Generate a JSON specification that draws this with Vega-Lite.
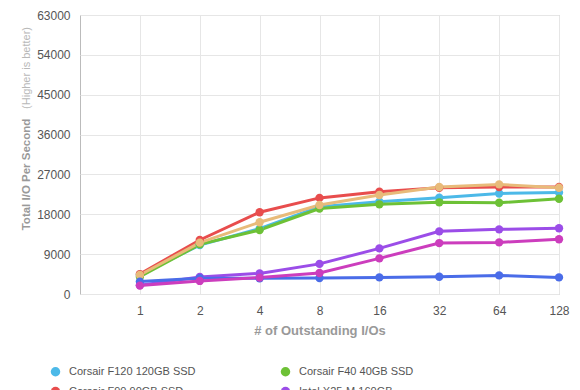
{
  "$schema": "https://vega.github.io/schema/vega-lite/v6.json",
  "width": 479,
  "height": 279,
  "autosize": {"type": "none"},
  "padding": {"left": 80, "top": 15, "right": 21, "bottom": 96},
  "background": "white",
  "config": {
    "font": "Liberation Sans",
    "view": {"stroke": "#bbbbbb", "strokeWidth": 1}
  },
  "title": {
    "text": "(Higher is better)",
    "orient": "left",
    "anchor": "end",
    "offset": -11,
    "dx": -18,
    "fontSize": 11,
    "fontWeight": "normal",
    "color": "#b8b8b8"
  },
  "data": {
    "values": [
      {"drive": "Corsair F120 120GB SSD", "ios": 1, "iops": 4350},
      {"drive": "Corsair F120 120GB SSD", "ios": 2, "iops": 11050},
      {"drive": "Corsair F120 120GB SSD", "ios": 4, "iops": 14750},
      {"drive": "Corsair F120 120GB SSD", "ios": 8, "iops": 19700},
      {"drive": "Corsair F120 120GB SSD", "ios": 16, "iops": 20850},
      {"drive": "Corsair F120 120GB SSD", "ios": 32, "iops": 21750},
      {"drive": "Corsair F120 120GB SSD", "ios": 64, "iops": 22700},
      {"drive": "Corsair F120 120GB SSD", "ios": 128, "iops": 22900},
      {"drive": "Corsair F40 40GB SSD", "ios": 1, "iops": 3900},
      {"drive": "Corsair F40 40GB SSD", "ios": 2, "iops": 11200},
      {"drive": "Corsair F40 40GB SSD", "ios": 4, "iops": 14450},
      {"drive": "Corsair F40 40GB SSD", "ios": 8, "iops": 19300},
      {"drive": "Corsair F40 40GB SSD", "ios": 16, "iops": 20250},
      {"drive": "Corsair F40 40GB SSD", "ios": 32, "iops": 20700},
      {"drive": "Corsair F40 40GB SSD", "ios": 64, "iops": 20600},
      {"drive": "Corsair F40 40GB SSD", "ios": 128, "iops": 21500},
      {"drive": "Corsair F90 90GB SSD", "ios": 1, "iops": 4500},
      {"drive": "Corsair F90 90GB SSD", "ios": 2, "iops": 12200},
      {"drive": "Corsair F90 90GB SSD", "ios": 4, "iops": 18450},
      {"drive": "Corsair F90 90GB SSD", "ios": 8, "iops": 21700},
      {"drive": "Corsair F90 90GB SSD", "ios": 16, "iops": 23100},
      {"drive": "Corsair F90 90GB SSD", "ios": 32, "iops": 24000},
      {"drive": "Corsair F90 90GB SSD", "ios": 64, "iops": 24150},
      {"drive": "Corsair F90 90GB SSD", "ios": 128, "iops": 24150},
      {"drive": "Intel X25-M 160GB", "ios": 1, "iops": 2000},
      {"drive": "Intel X25-M 160GB", "ios": 2, "iops": 3850},
      {"drive": "Intel X25-M 160GB", "ios": 4, "iops": 4650},
      {"drive": "Intel X25-M 160GB", "ios": 8, "iops": 6800},
      {"drive": "Intel X25-M 160GB", "ios": 16, "iops": 10300},
      {"drive": "Intel X25-M 160GB", "ios": 32, "iops": 14150},
      {"drive": "Intel X25-M 160GB", "ios": 64, "iops": 14600},
      {"drive": "Intel X25-M 160GB", "ios": 128, "iops": 14850},
      {"drive": "OCZ Vertex 2 SSD", "ios": 1, "iops": 4300},
      {"drive": "OCZ Vertex 2 SSD", "ios": 2, "iops": 11600},
      {"drive": "OCZ Vertex 2 SSD", "ios": 4, "iops": 16200},
      {"drive": "OCZ Vertex 2 SSD", "ios": 8, "iops": 20100},
      {"drive": "OCZ Vertex 2 SSD", "ios": 16, "iops": 22350},
      {"drive": "OCZ Vertex 2 SSD", "ios": 32, "iops": 24150},
      {"drive": "OCZ Vertex 2 SSD", "ios": 64, "iops": 24750},
      {"drive": "OCZ Vertex 2 SSD", "ios": 128, "iops": 24000},
      {"drive": "Intel X25-V 40GB", "ios": 1, "iops": 2800},
      {"drive": "Intel X25-V 40GB", "ios": 2, "iops": 3550},
      {"drive": "Intel X25-V 40GB", "ios": 4, "iops": 3550},
      {"drive": "Intel X25-V 40GB", "ios": 8, "iops": 3600},
      {"drive": "Intel X25-V 40GB", "ios": 16, "iops": 3750},
      {"drive": "Intel X25-V 40GB", "ios": 32, "iops": 3900},
      {"drive": "Intel X25-V 40GB", "ios": 64, "iops": 4200},
      {"drive": "Intel X25-V 40GB", "ios": 128, "iops": 3750},
      {"drive": "Kingston V 64GB", "ios": 1, "iops": 1900},
      {"drive": "Kingston V 64GB", "ios": 2, "iops": 2950},
      {"drive": "Kingston V 64GB", "ios": 4, "iops": 3700},
      {"drive": "Kingston V 64GB", "ios": 8, "iops": 4750},
      {"drive": "Kingston V 64GB", "ios": 16, "iops": 8050},
      {"drive": "Kingston V 64GB", "ios": 32, "iops": 11500},
      {"drive": "Kingston V 64GB", "ios": 64, "iops": 11650},
      {"drive": "Kingston V 64GB", "ios": 128, "iops": 12350}
    ]
  },
  "mark": {
    "type": "line",
    "strokeWidth": 3,
    "point": {"filled": true, "size": 70, "opacity": 1}
  },
  "encoding": {
    "x": {
      "field": "ios",
      "type": "quantitative",
      "scale": {"type": "log", "base": 2, "domain": [0.5, 128], "nice": false},
      "axis": {
        "title": "# of Outstanding I/Os",
        "values": [1, 2, 4, 8, 16, 32, 64, 128],
        "format": "d",
        "labelFlush": false,
        "ticks": false,
        "domain": false,
        "grid": true,
        "gridColor": "#e6e6e6",
        "labelPadding": 11,
        "labelFontSize": 12,
        "labelColor": "#555555",
        "titleFontSize": 13,
        "titleFontWeight": "bold",
        "titleColor": "#999999",
        "titlePadding": 8
      }
    },
    "y": {
      "field": "iops",
      "type": "quantitative",
      "scale": {"domain": [0, 63000], "nice": false},
      "axis": {
        "title": "Total I/O Per Second",
        "titleY": 159,
        "values": [0, 9000, 18000, 27000, 36000, 45000, 54000, 63000],
        "format": "d",
        "ticks": false,
        "domain": false,
        "grid": true,
        "gridColor": "#e6e6e6",
        "labelPadding": 10,
        "labelFontSize": 12,
        "labelColor": "#555555",
        "titleFontSize": 11.5,
        "titleFontWeight": "bold",
        "titleColor": "#999999",
        "titlePadding": 5
      }
    },
    "color": {
      "field": "drive",
      "type": "nominal",
      "scale": {
        "domain": ["Corsair F120 120GB SSD", "Corsair F90 90GB SSD", "OCZ Vertex 2 SSD", "Kingston V 64GB", "Corsair F40 40GB SSD", "Intel X25-M 160GB", "Intel X25-V 40GB"],
        "range": ["#4cb9e8", "#e84d4d", "#e8bb7a", "#cc3dbd", "#6dc136", "#9b4de8", "#4a6ce8"]
      },
      "legend": {
        "title": null,
        "orient": "none",
        "legendX": -30,
        "legendY": 351,
        "columns": 2,
        "columnPadding": 84,
        "rowPadding": 8,
        "symbolType": "circle",
        "symbolSize": 90,
        "symbolStrokeWidth": 0,
        "labelFontSize": 11,
        "labelColor": "#555555",
        "labelOffset": 8,
        "padding": 0
      }
    }
  }
}
